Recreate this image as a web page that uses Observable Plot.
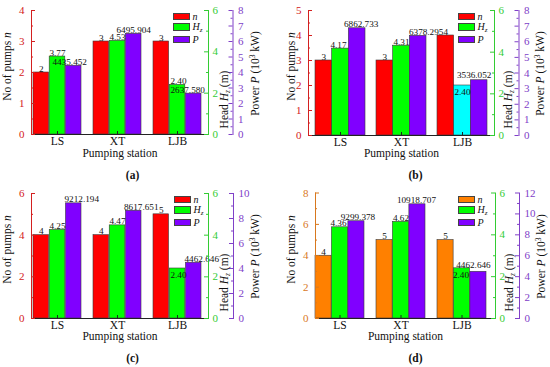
<!DOCTYPE html>
<html><head><meta charset="utf-8">
<script src="https://cdn.jsdelivr.net/npm/d3@7"></script>
<script src="https://cdn.jsdelivr.net/npm/@observablehq/plot@0.6"></script>
<style>
body{margin:0;background:#fff;}
#wrap{position:relative;width:550px;height:367px;overflow:hidden;background:#fff;}
#wrap svg, #wrap svg text{font-family:"Liberation Serif", serif !important;}
.panel{position:absolute;width:275px;height:183px;}
.sw{position:absolute;width:16.5px;height:7.3px;box-sizing:border-box;border:0.6px solid #444;}
.lt{position:absolute;font-family:"Liberation Serif",serif;font-size:10px;font-style:italic;line-height:11px;color:#111;}
.lt sub{font-size:7px;vertical-align:-2px;line-height:0;}
</style></head><body><div id="wrap"></div>
<script>
const stations = ["LS", "XT", "LJB"];
const seriesLabels = ["n", "Hz", "P"];

const pumpsA = [2, 3, 3];
const headA  = [3.77, 4.53, 2.40];
const powerA = [4435.452, 6495.904, 2637.580];

const pumpsB = [3, 3, 4];
const headB  = [4.17, 4.31, 2.40];
const powerB = [6862.733, 6378.295, 3536.052];

const pumpsC = [4, 4, 5];
const headC  = [4.25, 4.47, 2.40];
const powerC = [9212.194, 8617.651, 4462.646];

const pumpsD = [4, 5, 5];
const headD  = [4.36, 4.62, 2.40];
const powerD = [9299.378, 10918.707, 4462.646];

const pumpTicksA = [0, 1, 2, 3, 4];
const pumpTicksB = [0, 1, 2, 3, 4, 5];
const pumpTicksC = [0, 2, 4, 6];
const pumpTicksD = [0, 2, 4, 6, 8];
const headTicks = [0, 2, 4, 6];
const powerTicksAB = [0, 1, 2, 3, 4, 5, 6, 7, 8];
const powerTicksC = [0, 2, 4, 6, 8, 10];
const powerTicksD = [0, 2, 4, 6, 8, 10, 12];
const captions = ["(a)", "(b)", "(c)", "(d)"];

const GREEN = "#00ff00", PURPLE = "#8000ff", RED = "#ff0000", ORANGE = "#ff8000", CYAN = "#00ffff";
const GREEN_AX = "#33cc33", PURPLE_AX = "#8040c8";

const panels = [
  {cap: captions[0], left: 0, top: 0, pumps: pumpsA, head: headA, power: powerA, nTicks: pumpTicksA, pTicks: powerTicksAB,
   ml: 31, green: 208, purple: 232.5, mt: 10, zeroY: 134, xr: [32, 202], pad: 0.2,
   nFill: RED, nAxis: "#d42020", hzFill: [GREEN, GREEN, GREEN], hzInside: [false, false, false],
   hzDx: [0, 0, 1], pDx: [-4, 0, -6], pDy: [-1, -1, -1],
   labNX: 7, headX: 224, powerX: 255, capX: 132, legX: 173},
  {cap: captions[1], left: 275, top: 0, pumps: pumpsB, head: headB, power: powerB, nTicks: pumpTicksB, pTicks: powerTicksAB,
   ml: 33, green: 219, purple: 243.5, mt: 10, zeroY: 135, xr: [39, 212], pad: 0.187,
   nFill: RED, nAxis: "#d42020", hzFill: [GREEN, GREEN, CYAN], hzInside: [false, false, true],
   hzDx: [-2, 0, 0], pDx: [4, 8, -5], pDy: [-1, -1, -2],
   labNX: 16, headX: 233, powerX: 265, capX: 140, legX: 183},
  {cap: captions[2], left: 0, top: 183, pumps: pumpsC, head: headC, power: powerC, nTicks: pumpTicksC, pTicks: powerTicksC,
   ml: 31, green: 208, purple: 233, mt: 10, zeroY: 135, xr: [31.5, 202], pad: 0.2,
   nFill: RED, nAxis: "#d42020", hzFill: [GREEN, GREEN, GREEN], hzInside: [false, false, true],
   hzDx: [0, 0, 1], pDx: [8, 7.5, 8], pDy: [-1, -1, -1],
   labNX: 7, headX: 224, powerX: 255, capX: 132, legX: 174},
  {cap: captions[3], left: 275, top: 183, pumps: pumpsD, head: headD, power: powerD, nTicks: pumpTicksD, pTicks: powerTicksD,
   ml: 40, green: 220, purple: 244, mt: 9.5, zeroY: 135, xr: [40, 212], pad: 0.196,
   nFill: ORANGE, nAxis: "#d8781e", hzFill: [GREEN, GREEN, GREEN], hzInside: [false, false, true],
   hzDx: [-1.5, 0, -1], pDx: [1.5, -1, -5], pDy: [-1, -1, -4],
   labNX: 16, headX: 234, powerX: 266, capX: 140, legX: 183}
];

const FONT = "Liberation Serif";
const minorOf = ticks => ticks.slice(1).map((v, i) => (v + ticks[i]) / 2);

function makePanel(c) {
  const W = 275, H = 183;
  const fw = c.green - c.ml, fh = c.zeroY - c.mt;
  const nMax = c.nTicks[c.nTicks.length - 1];
  const hMax = headTicks[headTicks.length - 1];
  const pMax = c.pTicks[c.pTicks.length - 1];
  const kH = nMax / hMax, kP = nMax / pMax;
  const rows = stations.map((s, i) => ({s, n: c.pumps[i], hz: c.head[i], p: c.power[i], hzFill: c.hzFill[i], inside: c.hzInside[i], i}));
  const B = (c.xr[1] - c.xr[0]) * (1 - c.pad) / (3 - c.pad);
  const t = B / 3;
  const hN = v => v * kH, pN = v => v / 1000 * kP;
  const bar = {stroke: "#3a3a3a", strokeWidth: 0.6};
  const lab = {fontSize: 9.2, fill: "#111", fontFamily: FONT};
  const ttl = {fontSize: 11.5, fill: "#111", fontFamily: FONT, textAnchor: "middle", lineAnchor: "middle"};
  const pOff = c.purple - c.green;
  const hT = headTicks.map(hN), pT = c.pTicks.map(v => v * kP);
  const frameCenter = (c.ml + c.green) / 2;

  const hzLabelMarks = rows.map(r => Plot.text([r], {
    x: "s", y: d => hN(d.hz), text: d => d.hz.toFixed(2), dx: c.hzDx[r.i],
    dy: r.inside ? 3 : -1, lineAnchor: r.inside ? "top" : "bottom", ...lab}));
  const pLabelMarks = rows.map(r => Plot.text([r], {
    x: "s", y: d => pN(d.p), text: d => d.p.toFixed(3), dx: t + c.pDx[r.i], dy: c.pDy[r.i], lineAnchor: "bottom", ...lab}));

  const svg = Plot.plot({
    width: W, height: H,
    marginLeft: c.ml, marginRight: W - c.green, marginTop: c.mt, marginBottom: H - c.zeroY,
    style: {fontFamily: FONT, fontSize: "10.5px", background: "white", overflow: "visible"},
    x: {domain: stations, range: c.xr, paddingInner: c.pad, paddingOuter: 0},
    y: {domain: [0, nMax]},
    color: {type: "identity"},
    marks: [
      Plot.barY(rows, {x: "s", y: "n", fill: c.nFill, ...bar, insetRight: 2 * t}),
      Plot.barY(rows, {x: "s", y: d => hN(d.hz), fill: "hzFill", ...bar, insetLeft: t, insetRight: t}),
      Plot.barY(rows, {x: "s", y: d => pN(d.p), fill: PURPLE, ...bar, insetLeft: 2 * t}),
      Plot.text(rows, {x: "s", y: "n", text: d => String(d.n), dx: -t, dy: -1, lineAnchor: "bottom", ...lab}),
      ...hzLabelMarks,
      ...pLabelMarks,

      Plot.frame({anchor: "left", stroke: c.nAxis}),
      Plot.frame({anchor: "bottom", stroke: "#222"}),
      Plot.frame({anchor: "right", stroke: GREEN_AX}),
      Plot.frame({anchor: "right", stroke: PURPLE_AX, dx: pOff}),

      Plot.tickY(c.nTicks, {y: d => d, stroke: c.nAxis, insetRight: fw - 4}),
      Plot.tickY(minorOf(c.nTicks), {y: d => d, stroke: c.nAxis, insetRight: fw - 2}),
      Plot.tickY(hT, {y: d => d, stroke: GREEN_AX, insetLeft: fw - 4}),
      Plot.tickY(minorOf(hT), {y: d => d, stroke: GREEN_AX, insetLeft: fw - 2}),
      Plot.tickY(pT, {y: d => d, stroke: PURPLE_AX, insetLeft: fw - 4, dx: pOff}),
      Plot.tickY(minorOf(pT), {y: d => d, stroke: PURPLE_AX, insetLeft: fw - 2, dx: pOff}),
      Plot.tickX(stations, {x: d => d, stroke: "#222", insetTop: fh - 3}),

      Plot.axisY({ticks: c.nTicks, tickSize: 0, tickPadding: 7, color: c.nAxis, fontSize: 11, fontFamily: FONT, tickFormat: d => String(d), label: null}),
      Plot.axisY({anchor: "right", ticks: hT, tickSize: 0, tickPadding: 4, color: GREEN_AX, fontSize: 11, fontFamily: FONT,
                  tickFormat: d => String(Math.round(d / kH * 100) / 100), label: null}),
      Plot.axisY({anchor: "right", ticks: pT, tickSize: 0, tickPadding: 5, dx: pOff, color: PURPLE_AX, fontSize: 11, fontFamily: FONT,
                  tickFormat: d => String(Math.round(d / kP * 100) / 100), label: null}),
      Plot.axisX({tickSize: 0, tickPadding: 2, fontSize: 11.5, fontFamily: FONT, color: "#111", label: null}),

      Plot.text(["No of pumps n"], {frameAnchor: "top-left", dx: c.labNX - c.ml, dy: 66 - c.mt, rotate: -90, ...ttl}),
      Plot.text(["Head Hz (m)"], {frameAnchor: "top-left", dx: c.headX - c.ml, dy: 99 - c.mt, rotate: -90, ...ttl}),
      Plot.text(["Power P (10^3 kW)"], {frameAnchor: "top-left", dx: c.powerX - c.ml, dy: 73 - c.mt, rotate: -90, ...ttl}),
      Plot.text(["Pumping station"], {frameAnchor: "bottom", dy: 153 - c.zeroY, ...ttl}),
      Plot.text([c.cap], {frameAnchor: "bottom", dx: c.capX - frameCenter, dy: 175 - c.zeroY, ...ttl, fontSize: 11.5, fontWeight: "bold"})
    ]
  });

  svg.querySelectorAll("text").forEach(el => {
    const s = el.textContent;
    if (s === "No of pumps n") el.innerHTML = 'No of pumps <tspan font-style="italic">n</tspan>';
    else if (s === "Head Hz (m)") el.innerHTML = 'Head <tspan font-style="italic">H</tspan><tspan font-style="italic" font-size="7.5" dy="2">z</tspan><tspan dy="-2"> (m)</tspan>';
    else if (s === "Power P (10^3 kW)") el.innerHTML = 'Power <tspan font-style="italic">P</tspan> (10<tspan font-size="7.5" dy="-4">3</tspan><tspan dy="4"> kW)</tspan>';
  });

  const div = document.createElement("div");
  div.className = "panel";
  div.style.left = c.left + "px";
  div.style.top = c.top + "px";
  div.appendChild(svg);

  const legColors = [c.nFill, GREEN, PURPLE];
  const legTops = [12.7, 23.3, 36];
  seriesLabels.forEach((name, i) => {
    const sw = document.createElement("div");
    sw.className = "sw";
    sw.style.left = c.legX + "px";
    sw.style.top = legTops[i] + "px";
    sw.style.background = legColors[i];
    div.appendChild(sw);
    const tx = document.createElement("div");
    tx.className = "lt";
    tx.style.left = (c.legX + 19.5) + "px";
    tx.style.top = (legTops[i] - 2) + "px";
    tx.innerHTML = name === "Hz" ? "H<sub>z</sub>" : name;
    div.appendChild(tx);
  });
  return div;
}

const wrap = document.getElementById("wrap");
panels.forEach(p => wrap.appendChild(makePanel(p)));
</script>
</body></html>
